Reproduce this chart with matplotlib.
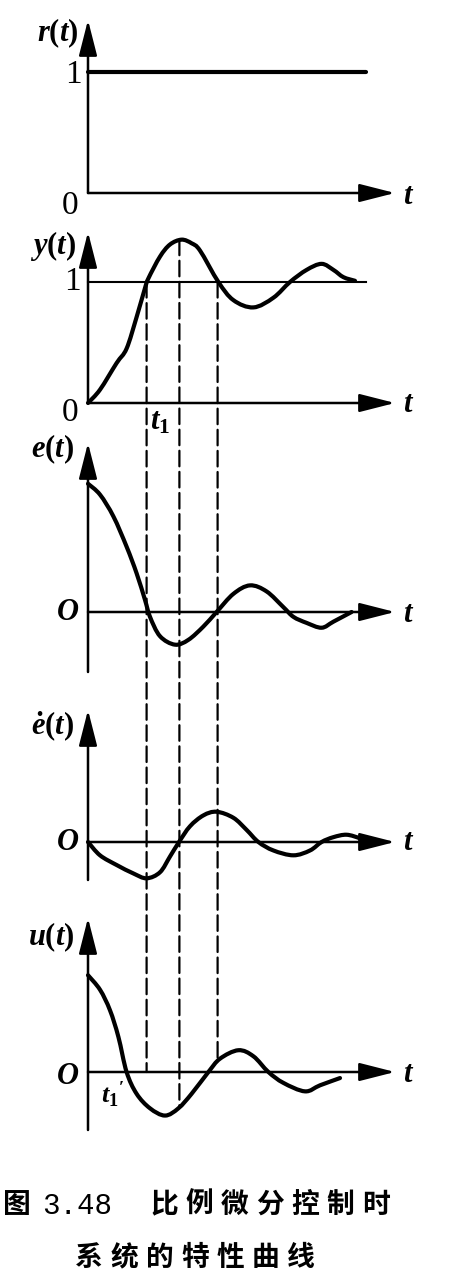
import numpy as np
import matplotlib.pyplot as plt
from matplotlib.patches import ConnectionPatch, PathPatch
from matplotlib.path import Path

plt.rcParams['font.family'] = ['Liberation Serif', 'DejaVu Serif']
plt.rcParams['mathtext.fontset'] = 'custom'
plt.rcParams['mathtext.it'] = 'Liberation Serif:italic:bold'
plt.rcParams['mathtext.rm'] = 'Liberation Serif:bold'
plt.rcParams['mathtext.bf'] = 'Liberation Serif:bold'

# values (t in arbitrary units)
r_t = [0.0, 13.9]
r_v = [1.0, 1.0]

y_t = [0.0, 0.6, 1.43, 1.93, 2.43, 2.85, 3.02, 3.6, 4.1, 4.68, 5.18, 5.6, 6.52,
       7.27, 8.27, 9.27, 10.1, 10.93, 11.68, 12.27, 12.77, 13.35]
y_v = [0.0, 0.11, 0.33, 0.45, 0.71, 0.95, 1.03, 1.21, 1.31, 1.35, 1.32, 1.26, 1.0,
       0.85, 0.79, 0.87, 1.0, 1.10, 1.15, 1.10, 1.04, 1.01]

e_t = [0.0, 0.6, 1.27, 1.93, 2.43, 2.85, 3.1, 3.6, 4.35, 5.02, 5.77, 6.43,
       7.27, 8.1, 8.93, 9.77, 10.27, 10.93, 11.68, 12.27, 13.18]
e_v = [1.06, 0.97, 0.79, 0.54, 0.32, 0.10, -0.04, -0.20, -0.27, -0.23, -0.12, 0.0,
       0.15, 0.22, 0.17, 0.04, -0.04, -0.09, -0.13, -0.08, 0.0]

de_t = [0.0, 0.6, 1.43, 2.27, 2.93, 3.6, 4.1, 4.55, 5.1, 5.77, 6.43, 7.27, 7.93,
        8.52, 9.27, 10.27, 11.1, 11.68, 12.27, 12.93, 13.6, 13.93]
de_v = [0.0, -0.11, -0.19, -0.26, -0.30, -0.25, -0.12, 0.0, 0.13, 0.22, 0.25, 0.20, 0.10,
        0.0, -0.07, -0.11, -0.07, 0.0, 0.04, 0.06, 0.03, 0.0]

u_t = [0.0, 0.6, 1.1, 1.52, 1.93, 2.43, 3.1, 3.85, 4.52, 5.18, 6.02, 6.6, 7.52,
       8.27, 9.02, 9.77, 10.85, 11.6, 12.6]
u_v = [0.80, 0.68, 0.51, 0.29, 0.0, -0.18, -0.30, -0.36, -0.30, -0.18, 0.0, 0.11, 0.18,
       0.13, 0.0, -0.09, -0.16, -0.11, -0.05]

# dashed guide lines: t, value on y(t) panel, value on u(t) panel
mark_t = [2.93, 4.57, 6.48]
mark_top = [1.0, 1.35, 1.0]
mark_bot = [0.0, -0.29, 0.12]

W, H = 449, 1283
fig = plt.figure(figsize=(W / 100, H / 100), dpi=100)

X0 = 88      # pixel of t = 0
SX = 20      # px per t unit
SY = 121     # px per value unit
T_TIP = (395 - X0) / SX


def panel(top, bot, zero):
    ax = fig.add_axes([0, 1 - bot / H, 1, (bot - top) / H])
    ax.set_xlim(-X0 / SX, (W - X0) / SX)
    ax.set_ylim((zero - bot) / SY, (zero - top) / SY)
    ax.axis('off')
    return ax


def arrow(ax, start, end):
    ax.annotate('', xy=end, xytext=start,
                arrowprops=dict(arrowstyle='-|>,head_length=1.1,head_width=0.28',
                                lw=1.8, color='black', mutation_scale=20,
                                shrinkA=0, shrinkB=0))


def axes_arrows(ax, zero, tip_px, bot_px):
    arrow(ax, (0, (zero - bot_px) / SY), (0, (zero - tip_px) / SY))
    arrow(ax, (0, 0), (T_TIP, 0))


def curve(ax, t, v):
    # smooth bezier path through the read points (catmull-rom handles)
    p = np.column_stack([t, v])
    ext = np.vstack([p[0], p, p[-1]])
    verts = [p[0]]
    codes = [Path.MOVETO]
    for i in range(1, len(ext) - 2):
        p0, p1, p2, p3 = ext[i - 1], ext[i], ext[i + 1], ext[i + 2]
        verts += [p1 + (p2 - p0) / 6, p2 - (p3 - p1) / 6, p2]
        codes += [Path.CURVE4] * 3
    ax.add_patch(PathPatch(Path(verts, codes), fill=False, lw=3,
                           edgecolor='black', capstyle='round', joinstyle='round'))


def label(x, y, s, ha='center', size=22, **kw):
    fig.text(x / W, 1 - y / H, s, ha=ha, va='center', fontsize=size, **kw)


ax1 = panel(10, 215, 193)
ax2 = panel(225, 430, 403)
ax3 = panel(435, 680, 612)
ax4 = panel(700, 890, 842)
ax5 = panel(905, 1135, 1072)

axes_arrows(ax1, 193, 20, 193)
axes_arrows(ax2, 403, 232, 403)
axes_arrows(ax3, 612, 443, 672)
axes_arrows(ax4, 842, 710, 880)
axes_arrows(ax5, 1072, 918, 1130)

ax1.plot(r_t, r_v, color='black', lw=3, solid_capstyle='round')
ax2.plot([0, 13.9], [1, 1], color='black', lw=1.5)
curve(ax2, y_t, y_v)
curve(ax3, e_t, e_v)
curve(ax4, de_t, de_v)
curve(ax5, u_t, u_v)

for t, a, b in zip(mark_t, mark_top, mark_bot):
    con = ConnectionPatch(xyA=(t, a), coordsA=ax2.transData,
                          xyB=(t, b), coordsB=ax5.transData,
                          color='black', lw=1.6, linestyle=(0, (7, 2.5)))
    fig.add_artist(con)

# axis labels
label(78, 33, '$r(t)$', ha='right')
label(73, 75, '1', size=24)
label(70, 206, '0', size=24)
label(409, 196, '$t$')

label(76, 246, '$y(t)$', ha='right')
label(72, 282, '1', size=24)
label(70, 413, '0', size=24)
label(409, 405, '$t$')
label(160, 422, '$t_1$')

label(74, 449, '$e(t)$', ha='right')
label(68, 612, '$O$')
label(409, 614, '$t$')

label(74, 727, r'$\dot{e}(t)$', ha='right')
label(68, 842, '$O$')
label(409, 843, '$t$')

label(74, 937, '$u(t)$', ha='right')
label(68, 1077, '$O$')
label(409, 1074, '$t$')
label(113, 1095, "$t_1{}'$", size=19)

# caption
cap1 = '比例微分控制时'
cap2 = '系统的特性曲线'
cjk = dict(family=['Noto Sans CJK SC', 'DejaVu Sans'], weight='bold', size=20)
label(17, 1205, '图', **cjk)
label(77, 1206, '3.48', family='Liberation Mono', size=21)
for i, ch in enumerate(cap1):
    label(164 + 35.3 * i, 1205, ch, **cjk)
for i, ch in enumerate(cap2):
    label(89 + 35.3 * i, 1258, ch, **cjk)

fig.savefig('out.png', dpi=100)
